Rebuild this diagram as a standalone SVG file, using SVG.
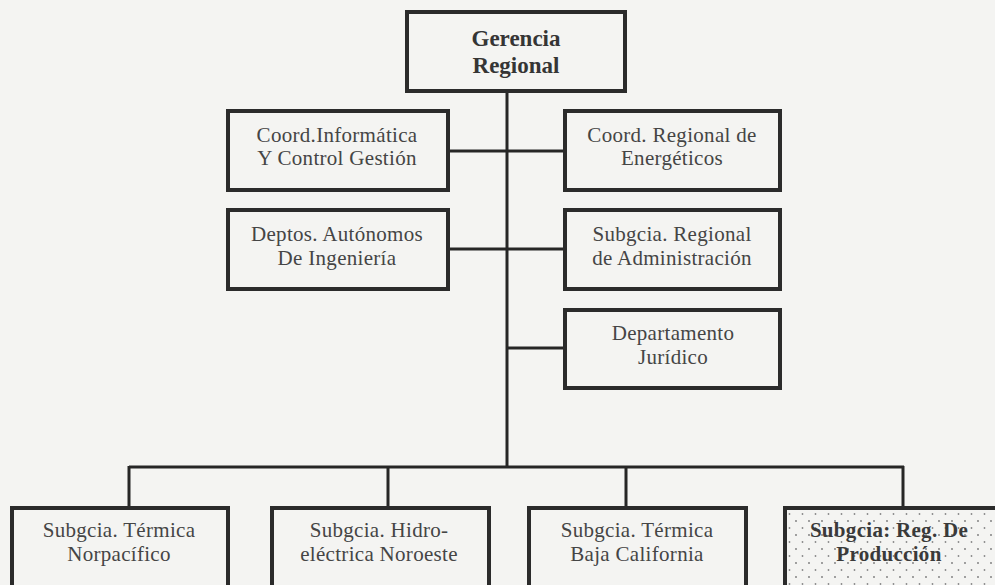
<svg xmlns="http://www.w3.org/2000/svg" width="995" height="585" viewBox="0 0 995 585">
  <style>
    .box { fill: none; stroke: #2b2b2b; stroke-width: 4; }
    .wire { stroke: #262626; stroke-width: 3; fill: none; }
    .lbl { font-family: "Liberation Serif", "Times New Roman", serif; font-size: 21px; fill: #454545; text-anchor: middle; letter-spacing: 0.3px; }
    .head { font-family: "Liberation Serif", "Times New Roman", serif; font-size: 23px; font-weight: bold; fill: #353535; text-anchor: middle; }
    .bold { font-weight: bold; fill: #3a3a3a; }
  </style>
  <defs>
    <pattern id="dots" width="13" height="14" patternUnits="userSpaceOnUse">
      <circle cx="3" cy="3" r="0.9" fill="#777"/>
      <circle cx="9.5" cy="10" r="0.9" fill="#888"/>
    </pattern>
  </defs>

  <rect width="995" height="585" fill="#f4f4f2"/>

  <!-- connectors -->
  <g id="connectors">
    <line class="wire" x1="507" y1="92" x2="507" y2="467"/>
    <line class="wire" x1="449" y1="151" x2="563" y2="151"/>
    <line class="wire" x1="449" y1="249" x2="563" y2="249"/>
    <line class="wire" x1="507" y1="348" x2="563" y2="348"/>
    <line class="wire" x1="129" y1="467" x2="904" y2="467"/>
    <line class="wire" x1="129" y1="466" x2="129" y2="506"/>
    <line class="wire" x1="388" y1="466" x2="388" y2="506"/>
    <line class="wire" x1="626" y1="466" x2="626" y2="506"/>
    <line class="wire" x1="903" y1="466" x2="903" y2="506"/>
  </g>

  <g id="gerencia">
    <rect class="box" x="407" y="12" width="218" height="79" fill="#f6f6f4"/>
    <text class="head" x="516" y="46">Gerencia</text>
    <text class="head" x="516" y="73">Regional</text>
  </g>

  <g id="coord-informatica">
    <rect class="box" x="228" y="111" width="220" height="79"/>
    <text class="lbl" x="337" y="142">Coord.Informática</text>
    <text class="lbl" x="337" y="165">Y Control Gestión</text>
  </g>

  <g id="coord-energeticos">
    <rect class="box" x="565" y="111" width="215" height="79"/>
    <text class="lbl" x="672" y="142">Coord. Regional de</text>
    <text class="lbl" x="672" y="165">Energéticos</text>
  </g>

  <g id="deptos-autonomos">
    <rect class="box" x="228" y="210" width="220" height="79"/>
    <text class="lbl" x="337" y="241">Deptos. Autónomos</text>
    <text class="lbl" x="337" y="265">De Ingeniería</text>
  </g>

  <g id="subgcia-administracion">
    <rect class="box" x="565" y="210" width="215" height="79"/>
    <text class="lbl" x="672" y="241">Subgcia. Regional</text>
    <text class="lbl" x="672" y="265">de Administración</text>
  </g>

  <g id="depto-juridico">
    <rect class="box" x="565" y="310" width="215" height="78"/>
    <text class="lbl" x="673" y="340">Departamento</text>
    <text class="lbl" x="673" y="364">Jurídico</text>
  </g>

  <g id="termica-norpacifico">
    <rect class="box" x="12" y="508" width="216" height="80"/>
    <text class="lbl" x="119" y="537">Subgcia. Térmica</text>
    <text class="lbl" x="119" y="561">Norpacífico</text>
  </g>

  <g id="hidro-noroeste">
    <rect class="box" x="272" y="508" width="217" height="80"/>
    <text class="lbl" x="379" y="537">Subgcia. Hidro-</text>
    <text class="lbl" x="379" y="561">eléctrica Noroeste</text>
  </g>

  <g id="termica-baja-california">
    <rect class="box" x="529" y="508" width="217" height="80"/>
    <text class="lbl" x="637" y="537">Subgcia. Térmica</text>
    <text class="lbl" x="637" y="561">Baja California</text>
  </g>

  <g id="reg-produccion">
    <rect x="785" y="508" width="220" height="80" fill="url(#dots)"/>
    <rect class="box" x="785" y="508" width="220" height="80"/>
    <text class="lbl bold" x="889" y="537">Subgcia: Reg. De</text>
    <text class="lbl bold" x="889" y="561">Producción</text>
  </g>
</svg>
